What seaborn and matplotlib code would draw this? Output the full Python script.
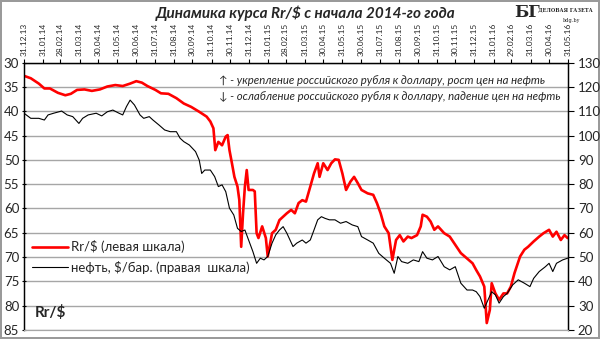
import matplotlib
matplotlib.use("Agg")
import matplotlib.pyplot as plt
import matplotlib.dates as mdates
from matplotlib.lines import Line2D
import pandas as pd
import seaborn as sns

# Russian rouble per US dollar (left axis, inverted)
rub_dates = [
    "2013-12-31", "2014-01-11", "2014-01-24", "2014-02-02", "2014-02-11", "2014-02-24",
    "2014-03-08", "2014-03-17", "2014-03-27", "2014-04-08", "2014-04-20", "2014-05-03",
    "2014-05-15", "2014-05-28", "2014-06-09", "2014-06-21", "2014-07-01", "2014-07-10",
    "2014-07-19", "2014-08-01", "2014-08-10", "2014-08-22", "2014-09-04", "2014-09-16",
    "2014-09-28", "2014-10-11", "2014-10-23", "2014-10-29", "2014-11-03", "2014-11-06",
    "2014-11-11", "2014-11-17", "2014-11-23", "2014-11-26", "2014-11-29", "2014-12-03",
    "2014-12-07", "2014-12-12", "2014-12-15", "2014-12-18", "2014-12-21", "2014-12-24",
    "2014-12-27", "2014-12-30", "2015-01-06", "2015-01-09", "2015-01-12", "2015-01-15",
    "2015-01-21", "2015-01-27", "2015-01-30", "2015-02-06", "2015-02-12", "2015-02-18",
    "2015-02-24", "2015-03-02", "2015-03-09", "2015-03-15", "2015-03-21", "2015-03-27",
    "2015-04-02", "2015-04-09", "2015-04-15", "2015-04-21", "2015-04-24", "2015-04-30",
    "2015-05-07", "2015-05-13", "2015-05-19", "2015-05-25", "2015-05-31", "2015-06-06",
    "2015-06-13", "2015-06-19", "2015-06-25", "2015-07-01", "2015-07-11", "2015-07-20",
    "2015-07-26", "2015-08-01", "2015-08-07", "2015-08-14", "2015-08-20", "2015-08-26",
    "2015-09-01", "2015-09-07", "2015-09-14", "2015-09-20", "2015-09-29", "2015-10-05",
    "2015-10-08", "2015-10-15", "2015-10-21", "2015-10-27", "2015-11-02", "2015-11-12",
    "2015-11-21", "2015-11-30", "2015-12-09", "2015-12-19", "2015-12-28", "2016-01-03",
    "2016-01-09", "2016-01-16", "2016-01-20", "2016-01-25", "2016-01-28", "2016-02-03",
    "2016-02-09", "2016-02-16", "2016-02-22", "2016-02-28", "2016-03-05", "2016-03-14",
    "2016-03-21", "2016-03-27", "2016-04-05", "2016-04-14", "2016-04-21", "2016-04-30",
    "2016-05-06", "2016-05-12", "2016-05-19", "2016-05-25", "2016-05-30",
]
rub_values = [
    32.7, 33.2, 34.3, 35.3, 35.3, 36.2,
    36.7, 36.4, 35.6, 35.5, 35.8, 35.5,
    34.9, 34.6, 34.8, 34.3, 33.8, 34.1,
    34.8, 35.6, 36.3, 36.4, 37.3, 38.4,
    39.1, 40.1, 41.1, 42.1, 43.5, 48.0,
    46.3, 47.0, 45.2, 44.9, 48.0, 50.7,
    53.5, 55.5, 58.3, 67.9, 61.0, 55.5,
    52.1, 56.2, 56.2, 56.5, 65.1, 66.1,
    63.7, 66.1, 69.9, 65.1, 64.4, 62.4,
    61.7, 61.0, 60.3, 61.0, 58.9, 58.3,
    58.6, 55.5, 52.8, 50.7, 53.5, 50.7,
    52.1, 50.7, 49.9, 50.0, 52.8, 56.2,
    54.5, 53.5, 54.8, 56.2, 56.9, 57.2,
    58.9, 61.0, 63.7, 65.1, 70.6, 66.5,
    65.5, 66.8, 65.8, 66.1, 65.5, 63.7,
    61.3, 61.7, 62.7, 64.4, 63.7, 65.1,
    65.8, 67.5, 69.2, 70.3, 71.3, 72.7,
    74.0, 76.1, 83.6, 80.9, 75.4, 77.5,
    78.8, 77.5, 77.5, 76.1, 73.3, 69.9,
    68.5, 67.9, 66.8, 65.8, 65.1, 64.4,
    65.8, 64.8, 66.5, 65.5, 66.1,
]

# Brent oil, USD per barrel (right axis)
oil_dates = [
    "2013-12-31", "2014-01-11", "2014-01-24", "2014-02-02", "2014-02-08", "2014-02-17",
    "2014-03-02", "2014-03-11", "2014-03-20", "2014-03-30", "2014-04-05", "2014-04-14",
    "2014-04-27", "2014-05-06", "2014-05-15", "2014-05-24", "2014-06-03", "2014-06-09",
    "2014-06-15", "2014-06-21", "2014-06-28", "2014-07-07", "2014-07-13", "2014-07-22",
    "2014-07-28", "2014-08-07", "2014-08-16", "2014-08-25", "2014-09-04", "2014-09-10",
    "2014-09-16", "2014-09-25", "2014-10-05", "2014-10-11", "2014-10-15", "2014-10-20",
    "2014-10-29", "2014-11-05", "2014-11-11", "2014-11-17", "2014-11-23", "2014-11-29",
    "2014-12-06", "2014-12-12", "2014-12-18", "2014-12-24", "2014-12-30", "2015-01-06",
    "2015-01-12", "2015-01-18", "2015-01-24", "2015-01-30", "2015-02-06", "2015-02-12",
    "2015-02-18", "2015-02-24", "2015-03-02", "2015-03-12", "2015-03-18", "2015-03-27",
    "2015-04-02", "2015-04-09", "2015-04-15", "2015-04-21", "2015-04-27", "2015-05-03",
    "2015-05-10", "2015-05-19", "2015-05-28", "2015-06-06", "2015-06-16", "2015-06-25",
    "2015-07-01", "2015-07-11", "2015-07-20", "2015-07-29", "2015-08-07", "2015-08-17",
    "2015-08-23", "2015-08-29", "2015-09-04", "2015-09-14", "2015-09-23", "2015-10-02",
    "2015-10-08", "2015-10-15", "2015-10-24", "2015-11-02", "2015-11-12", "2015-11-21",
    "2015-11-30", "2015-12-09", "2015-12-19", "2015-12-28", "2016-01-03", "2016-01-09",
    "2016-01-16", "2016-01-22", "2016-01-28", "2016-02-03", "2016-02-09", "2016-02-16",
    "2016-02-22", "2016-03-02", "2016-03-11", "2016-03-21", "2016-03-30", "2016-04-05",
    "2016-04-14", "2016-04-24", "2016-04-30", "2016-05-06", "2016-05-12", "2016-05-22",
    "2016-05-30",
]
oil_values = [
    109.2, 107.1, 107.1, 106.4, 108.5, 109.2,
    110.1, 108.5, 107.8, 105.0, 107.1, 108.5,
    109.2, 108.1, 109.8, 110.5, 109.2, 108.5,
    111.9, 114.6, 112.6, 108.5, 107.1, 107.8,
    106.4, 104.3, 102.3, 101.6, 101.6, 98.9,
    97.5, 96.1, 93.4, 89.9, 84.4, 85.8,
    85.8, 83.1, 79.0, 79.7, 76.9, 70.1,
    67.3, 61.8, 60.5, 61.1, 57.0, 52.2,
    47.4, 49.5, 48.8, 50.2, 55.7, 59.1,
    61.1, 62.5, 59.8, 54.3, 55.7, 57.0,
    55.7, 57.0, 61.1, 65.3, 66.6, 65.9,
    65.3, 65.3, 63.9, 64.6, 63.2, 62.5,
    58.4, 57.0, 55.7, 51.5, 49.5, 47.4,
    43.3, 50.2, 48.1, 47.4, 48.8, 48.1,
    52.2, 49.5, 48.8, 50.2, 46.0, 44.7,
    46.0, 39.2, 36.4, 36.4, 35.7, 33.7,
    28.9, 32.3, 35.7, 34.4, 31.0, 33.7,
    35.0, 38.5, 40.6, 39.2, 37.8, 41.2,
    44.0, 46.0, 47.4, 44.0, 47.4, 48.8,
    49.5,
]

rub = pd.DataFrame({"date": pd.to_datetime(rub_dates), "value": rub_values})
oil = pd.DataFrame({"date": pd.to_datetime(oil_dates), "value": oil_values})

sns.set_style("white")
plt.rcParams["font.family"] = ["Lato", "DejaVu Sans"]

fig = plt.figure(figsize=(6.0, 3.39), dpi=100)
fig.patch.set_edgecolor("#9a9a9a")
fig.patch.set_linewidth(1.5)
ax = fig.add_axes([0.040, 0.027, 0.907, 0.788])
ax2 = ax.twinx()

sns.lineplot(data=rub, x="date", y="value", ax=ax, color="#ff0000", linewidth=1.9)
sns.lineplot(data=oil, x="date", y="value", ax=ax2, color="#000000", linewidth=0.8)

start, end = pd.Timestamp("2013-12-31"), pd.Timestamp("2016-05-31")
ax.set_xlim(start, end)
ax.set_ylim(85, 30)
ax2.set_ylim(20, 130)

ax.set_yticks(range(30, 86, 5))
ax2.set_yticks(range(20, 131, 10))
ax.yaxis.grid(True, color="#a6a6a6", linewidth=1.0)
ax.xaxis.grid(False)

month_ends = pd.date_range(start, end, freq="ME")
ax.set_xticks(month_ends)
ax.xaxis.set_major_formatter(mdates.DateFormatter("%d.%m.%y"))
ax.tick_params(axis="x", top=True, labeltop=True, bottom=False, labelbottom=False,
               labelrotation=90, labelsize=6.0, length=3, width=0.8, pad=2,
               direction="out", color="black")
ax.tick_params(axis="y", left=True, labelsize=9.5, length=3, width=0.8,
               direction="inout", pad=2, color="black")
ax2.tick_params(axis="y", right=True, labelsize=9.5, length=4, width=0.8,
                direction="out", pad=3, color="black")

for a in (ax, ax2):
    a.set_xlabel("")
    a.set_ylabel("")
    for side in ("left", "right", "top"):
        a.spines[side].set_color("black")
        a.spines[side].set_linewidth(0.9)
    a.spines["bottom"].set_color("#a6a6a6")
ax2.patch.set_visible(False)

handles = [
    Line2D([], [], color="#ff0000", linewidth=1.9),
    Line2D([], [], color="#000000", linewidth=0.8),
]
ax.legend(handles, ["Rr/$ (левая шкала)", "нефть, $/бар. (правая  шкала)"],
          loc="upper left", bbox_to_anchor=(0.005, 0.355), frameon=False,
          fontsize=9.5, handlelength=2.7, handletextpad=0.25, labelspacing=0.55,
          borderaxespad=0.0)

ax.text(0.02, 0.035, "Rr/$", transform=ax.transAxes, fontsize=11,
        fontweight="bold", ha="left", va="bottom")

ax.text(0.358, 0.935, "↑ - укрепление российского рубля к доллару, рост цен на нефть",
        transform=ax.transAxes, fontsize=8.2, style="italic", ha="left", va="center")
ax.text(0.358, 0.875, "↓ - ослабление российского рубля к доллару, падение цен на нефть",
        transform=ax.transAxes, fontsize=8.2, style="italic", ha="left", va="center")

fig.text(0.51, 0.962, "Динамика курса Rr/$ с начала 2014-го года", fontsize=11,
         fontweight="bold", style="italic", ha="center", va="center")

# Publisher mark in the top right corner
fig.text(0.878, 0.962, "БГ", fontsize=12, fontweight="bold", family="DejaVu Serif",
         ha="center", va="center")
fig.text(0.988, 0.972, "ДЕЛОВАЯ ГАЗЕТА", fontsize=3.6, fontweight="bold",
         family="DejaVu Serif", ha="right", va="center")
fig.text(0.952, 0.940, "bdg.by", fontsize=3.6, family="DejaVu Serif",
         ha="center", va="center")

fig.savefig("out.png", dpi=100)
